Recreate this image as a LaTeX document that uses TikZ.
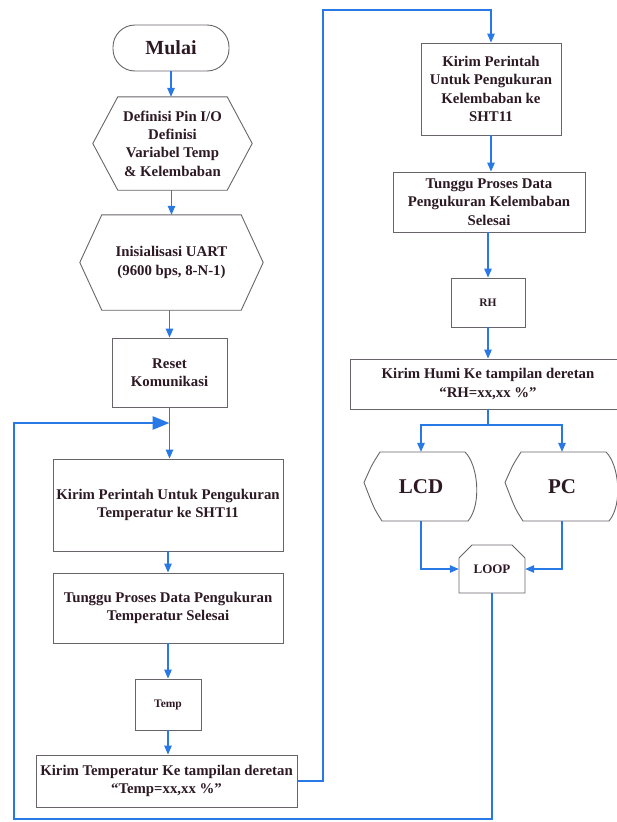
\documentclass[tikz,border=0pt]{standalone}
\usepackage{fontspec}
\setmainfont{Liberation Serif}
\usetikzlibrary{arrows.meta}

\definecolor{flowblue}{RGB}{40,120,230}
\definecolor{boxgray}{RGB}{105,100,105}
\definecolor{inkdark}{RGB}{45,25,35}

\tikzset{
  txt/.style={align=center, text=inkdark, inner sep=0pt,
    font=\bfseries\fontsize{14.8}{18.3}\selectfont},
  box/.style={txt, draw=boxgray, line width=0.9pt},
  plain/.style={txt, draw=none},
  outline/.style={draw=boxgray, line width=0.9pt},
  flow/.style={->, draw=flowblue, line width=1.3pt},
  loopline/.style={draw=flowblue, line width=2.8pt},
}

% hexagon round a plain node: name, inset
\newcommand{\hexout}[2]{%
  \draw[outline] ([xshift=#2]#1.north west) -- ([xshift=-#2]#1.north east) -- (#1.east)
    -- ([xshift=-#2]#1.south east) -- ([xshift=#2]#1.south west) -- (#1.west) -- cycle;}
% display symbol round a plain node
\newcommand{\dispout}[1]{%
  \draw[outline, shift={(#1.center)}] (-41,-34.5) -- (44,-34.5)
    .. controls (57,-22) and (61,18) .. (47,34.5) -- (-39,34.5)
    .. controls (-47,22) .. (-57,-4) .. controls (-49,-22) .. (-41,-34.5) -- cycle;}

\begin{document}
\begin{tikzpicture}[x=1pt, y=-1pt, >={Triangle[length=9pt,width=7.5pt]}]
  \useasboundingbox (0,0) rectangle (616,822);

  % left column
  \node[box, rounded corners=22pt, minimum width=116pt, minimum height=46pt,
    font=\bfseries\fontsize{20}{24}\selectfont] (mulai) at (171,48) {Mulai};
  \node[plain, minimum width=159pt, minimum height=93pt] (defin) at (172.5,143.5)
    {Definisi Pin I/O\\Definisi\\Variabel Temp\\\& Kelembaban};
  \hexout{defin}{25pt}
  \node[plain, minimum width=183pt, minimum height=95pt] (uart) at (171.5,262.5)
    {Inisialisasi UART\\(9600 bps, 8-N-1)};
  \hexout{uart}{22pt}
  \node[box, minimum width=115pt, minimum height=69pt] (reset) at (169.5,372.5)
    {Reset\\Komunikasi};
  \node[box, minimum width=230pt, minimum height=92pt] (kirimT) at (168,505)
    {Kirim Perintah Untuk Pengukuran\\Temperatur ke SHT11};
  \node[box, minimum width=230pt, minimum height=70pt] (tungguT) at (168,608)
    {Tunggu Proses Data Pengukuran\\Temperatur Selesai};
  \node[box, minimum width=66pt, minimum height=51pt,
    font=\bfseries\fontsize{11.5}{14}\selectfont] (temp) at (168,704.5) {Temp};
  \node[box, minimum width=261pt, minimum height=52pt] (kirimTT) at (166.5,781)
    {Kirim Temperatur Ke tampilan deretan\\“Temp=xx,xx \%”};

  % right column
  \node[box, minimum width=140pt, minimum height=92pt] (kirimP) at (491,89)
    {Kirim Perintah\\Untuk Pengukuran\\Kelembaban ke\\SHT11};
  \node[box, minimum width=192pt, minimum height=60pt] (tungguH) at (489,202)
    {Tunggu Proses Data\\Pengukuran Kelembaban\\Selesai};
  \node[box, minimum width=74pt, minimum height=49pt,
    font=\bfseries\fontsize{11.5}{14}\selectfont] (rh) at (488,302.5) {RH};
  \node[box, minimum width=276pt, minimum height=50pt] (kirimH) at (488,384)
    {Kirim Humi Ke tampilan deretan\\“RH=xx,xx \%”};
  \node[plain, minimum width=114pt, minimum height=69pt,
    font=\bfseries\fontsize{21}{24}\selectfont] (lcd) at (421,486.5) {LCD};
  \dispout{lcd}
  \node[plain, minimum width=114pt, minimum height=69pt,
    font=\bfseries\fontsize{21}{24}\selectfont] (pc) at (562,486.5) {PC};
  \dispout{pc}
  \node[plain, minimum width=66pt, minimum height=48pt,
    font=\bfseries\fontsize{13}{15}\selectfont] (loop) at (492,569) {LOOP};
  \draw[outline, shift={(loop.center)}] (-33,24) -- (-33,-11) -- (-20,-24)
    -- (20,-24) -- (33,-11) -- (33,24) -- cycle;

  \coordinate (jn) at (169.5,423);
  \coordinate (lb) at (14,819);
  \coordinate (tr) at (323,10);
  \coordinate (sp) at (488,425);

  % connectors
  \draw[flow] (mulai.south) -- (mulai.south |- defin.north);
  \draw[flow] (uart.north |- defin.south) -- (uart.north);
  \draw[flow] (reset.north |- uart.south) -- (reset.north);
  \draw[flow] (reset.south) -- (reset.south |- kirimT.north);
  \draw[flow] (kirimT.south) -- (tungguT.north);
  \draw[flow] (tungguT.south) -- (temp.north);
  \draw[flow] (temp.south) -- (temp.south |- kirimTT.north);
  \draw[flow] (kirimTT.east) -| (tr) -| (kirimP.north);
  \draw[flow] (kirimP.south) -- (kirimP.south |- tungguH.north);
  \draw[flow] (rh.north |- tungguH.south) -- (rh.north);
  \draw[flow] (rh.south) -- (kirimH.north);
  \draw[flow] (kirimH.south) -- (sp) -| (lcd.north);
  \draw[flow] (sp) -| (pc.north);
  \draw[flow] (lcd.south) |- (loop.west);
  \draw[flow] (pc.south) |- (loop.east);
  \draw[loopline, -{Triangle[length=17pt,width=13pt]}]
    (loop.south) |- (lb) |- (jn);
\end{tikzpicture}
\end{document}
